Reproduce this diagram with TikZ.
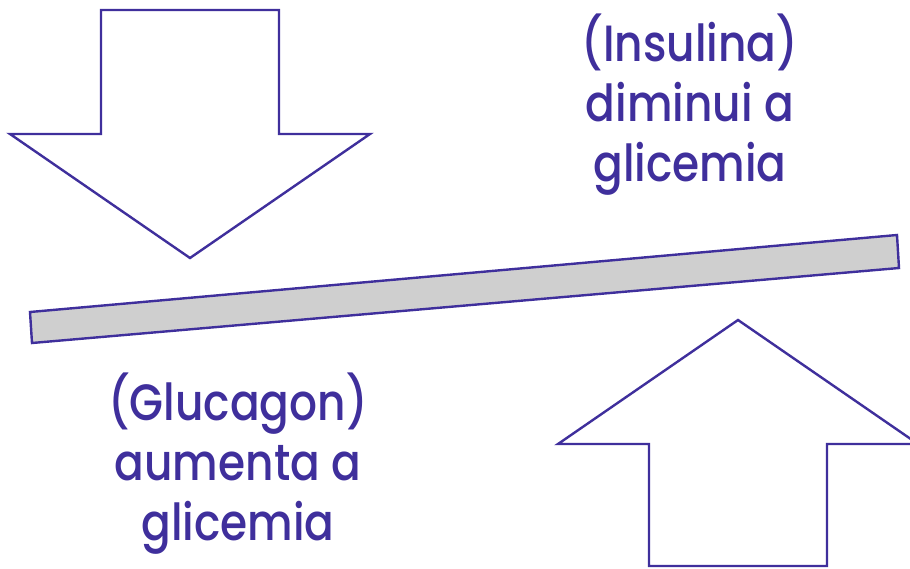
\documentclass[tikz,border=0pt]{standalone}
\usepackage{fontspec}
\setmainfont{Poppins}[UprightFont=* Medium,FakeStretch=0.86]
\definecolor{ink}{HTML}{3F2F9C}
\definecolor{barfill}{HTML}{CFCFCF}
\begin{document}
\begin{tikzpicture}[x=1pt,y=-1pt,
  shape line/.style={draw=ink,line width=2.4pt,line join=miter},
  label text/.style={text=ink,font=\fontsize{51}{60}\selectfont,anchor=base,inner sep=0pt}]
\useasboundingbox (0,0) rectangle (910,568);
\clip (0,0) rectangle (910,568);
% down arrow
\draw[shape line,fill=white] (101,10) -- (279,10) -- (279,134) -- (370,134) -- (190,258) -- (10,134) -- (101,134) -- cycle;
% up arrow
\draw[shape line,fill=white] (738,320) -- (918,444) -- (827,444) -- (827,566) -- (649,566) -- (649,444) -- (558,444) -- cycle;
% bar
\draw[shape line,fill=barfill] (30,312) -- (897,235) -- (899,268) -- (32,343) -- cycle;
% texts
\node[label text] (i1) at (690,61) {(Insulina)};
\node[label text] (i2) at (690,121) {diminui a};
\node[label text] (i3) at (690,181) {glicemia};
\node[label text] (g1) at (238,420) {(Glucagon)};
\node[label text] (g2) at (238,480) {aumenta a};
\node[label text] (g3) at (238,540) {glicemia};
\end{tikzpicture}
\end{document}
